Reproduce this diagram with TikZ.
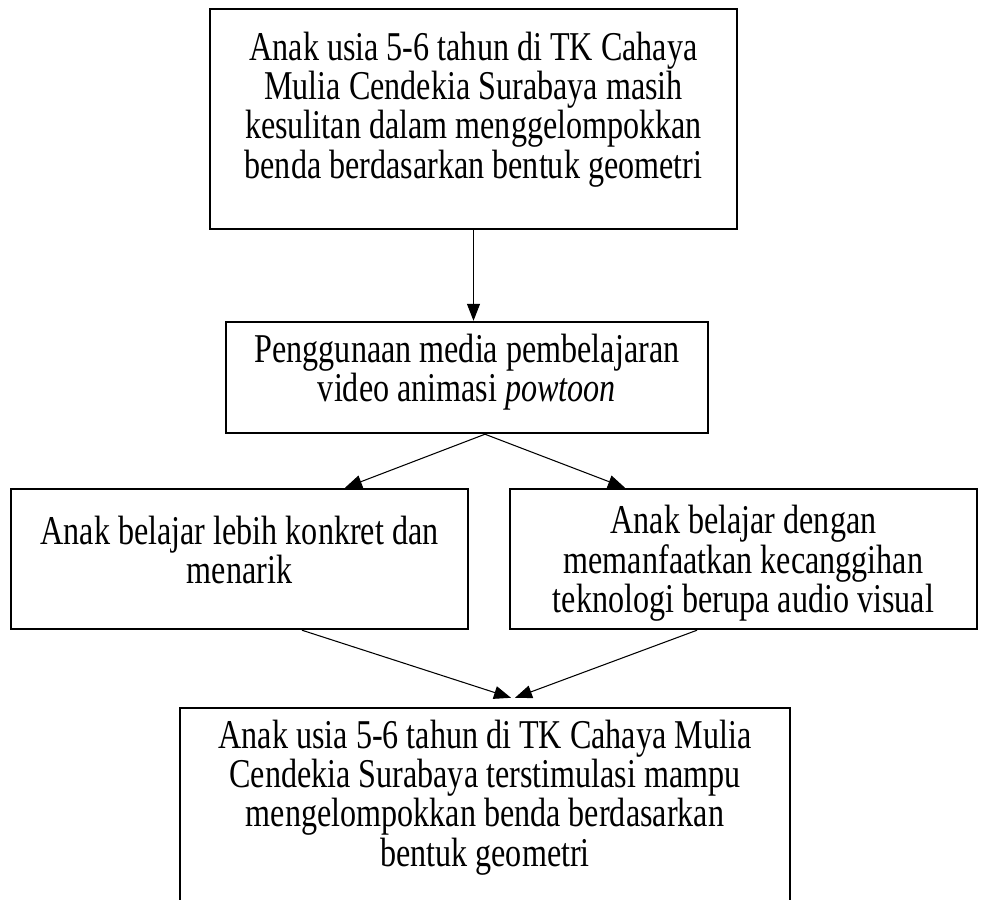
\documentclass[tikz,border=0pt]{standalone}
\usepackage{fontspec}
\setmainfont{Liberation Serif}[FakeStretch=0.785]
\usetikzlibrary{arrows.meta}
\tikzset{every picture/.style={x=0.02cm, y=-0.02cm}}
\tikzset{kotak/.style={draw, line width=1.4pt, align=center, inner sep=0pt,
    font=\fontsize{23.3pt}{22.4pt}\selectfont}}
\tikzset{panah/.style={-{Triangle[length=0.34cm,width=0.26cm]}, line width=0.6pt}}
\newcommand\flowbox[6]{\node[kotak, minimum width=#3cm, minimum height=#4cm, text depth=#5cm] (#1) at (#2) {#6};}

\begin{document}
\begin{tikzpicture}
      \useasboundingbox (0,0) rectangle (985,900);
      \clip (0,0) rectangle (985,900);

      % Boxes
      \flowbox{atas}{473.5,119}{10.54}{4.4}{0.56}{Anak usia 5-6 tahun di TK Cahaya\\Mulia Cendekia Surabaya masih\\kesulitan dalam menggelompokkan\\benda berdasarkan bentuk geometri}
      \flowbox{guna}{467,377.5}{9.64}{2.22}{0.4}{Penggunaan media pembelajaran\\video animasi \textit{powtoon}}
      \flowbox{kiri}{239.5,559}{9.14}{2.8}{0.36}{Anak belajar lebih konkret dan\\menarik}
      \flowbox{kanan}{743.5,559}{9.34}{2.8}{-0.22}{Anak belajar dengan\\memanfaatkan kecanggihan\\teknologi berupa audio visual}
      \flowbox{hasil}{485,818}{12.2}{4.4}{1.0}{Anak usia 5-6 tahun di TK Cahaya Mulia\\Cendekia Surabaya terstimulasi mampu\\mengelompokkan benda berdasarkan\\bentuk geometri}

      % Arrows
      \draw[panah] (atas.south) -- (atas.south |- guna.north);
      \draw[panah] ([xshift=0.36cm]guna.south) -- ([xshift=2.11cm]kiri.north);
      \draw[panah] ([xshift=0.36cm]guna.south) -- ([xshift=-2.37cm]kanan.north);
      \draw[panah] ([xshift=1.25cm]kiri.south) -- ([xshift=0.52cm,yshift=0.18cm]hasil.north);
      \draw[panah] ([xshift=-0.93cm]kanan.south) -- ([xshift=0.6cm,yshift=0.18cm]hasil.north);
    \end{tikzpicture}
\end{document}
